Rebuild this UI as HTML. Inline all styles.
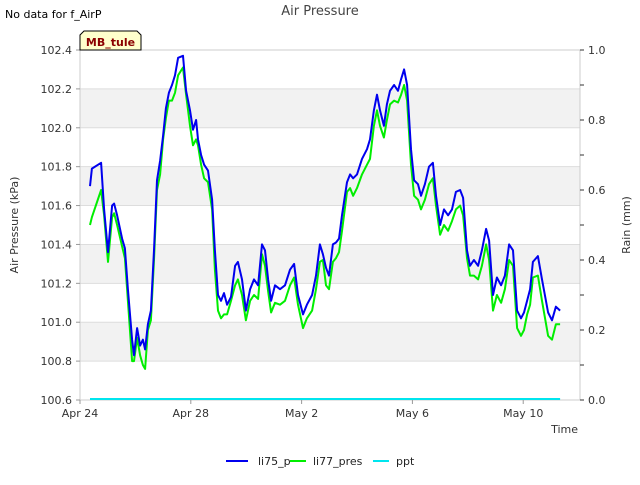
<!DOCTYPE html>
<html><head><meta charset="utf-8"><style>
body{margin:0;background:#fff;font-family:"Liberation Sans","DejaVu Sans",sans-serif}
svg text{font-family:"DejaVu Sans","Liberation Sans",sans-serif}
</style></head><body>
<svg id="chart" width="640" height="480" viewBox="0 0 640 480" xmlns="http://www.w3.org/2000/svg">
<rect width="640" height="480" fill="#fff"/>
<g id="bands"></g>
<g id="grid"></g>
<rect x="80" y="50" width="500" height="350" fill="none" stroke="#ccc"/>
<g id="axes"></g>
<g id="series"></g>
<text x="320" y="15" text-anchor="middle" font-size="13" fill="#444">Air Pressure</text>
<text x="5" y="18" font-size="11" fill="#000">No data for f_AirP</text>
<g>
<path d="M84,31 L137,31 L141,35 L141,50 L80,50 L80,35 Z" fill="#ffffcc" stroke="#000" stroke-width="1"/>
<text x="110.5" y="46" text-anchor="middle" font-size="11" font-weight="bold" fill="#8b0000">MB_tule</text>
</g>
<text transform="translate(18,225) rotate(-90)" text-anchor="middle" font-size="11" fill="#333">Air Pressure (kPa)</text>
<text transform="translate(630,225) rotate(-90)" text-anchor="middle" font-size="11" fill="#333">Rain (mm)</text>
<text x="578" y="433" text-anchor="end" font-size="11" fill="#333">Time</text>
<g>
<g><line x1="226" y1="461" x2="248" y2="461" stroke="#0000ee" stroke-width="2"/><text x="258" y="465" font-size="11" fill="#222">li75_p</text></g>
<g><line x1="290" y1="461" x2="306" y2="461" stroke="#00ee00" stroke-width="2"/><text x="313" y="465" font-size="11" fill="#222">li77_pres</text></g>
<g><line x1="373" y1="461" x2="389" y2="461" stroke="#00e5ee" stroke-width="2"/><text x="396" y="465" font-size="11" fill="#222">ppt</text></g>
</g>
</svg>
<script>
const days=[0.36,0.43,0.76,0.87,1.01,1.16,1.23,1.34,1.52,1.62,1.73,1.88,1.95,2.06,2.17,2.27,2.35,2.45,2.56,2.67,2.78,2.89,3.00,3.10,3.21,3.32,3.43,3.54,3.72,3.83,3.97,4.08,4.19,4.26,4.37,4.48,4.62,4.77,4.87,4.98,5.09,5.20,5.31,5.45,5.60,5.70,5.85,5.99,6.14,6.28,6.43,6.57,6.68,6.79,6.90,7.04,7.22,7.40,7.58,7.73,7.87,8.05,8.19,8.38,8.52,8.66,8.77,8.88,8.99,9.13,9.24,9.35,9.46,9.64,9.75,9.86,10.00,10.18,10.36,10.47,10.61,10.72,10.83,10.97,11.08,11.19,11.34,11.48,11.59,11.70,11.81,11.95,12.06,12.20,12.31,12.45,12.60,12.74,12.85,13.00,13.14,13.29,13.43,13.57,13.72,13.83,13.97,14.08,14.22,14.37,14.51,14.66,14.77,14.91,15.05,15.20,15.34,15.49,15.63,15.78,15.92,16.03,16.14,16.25,16.35,16.53,16.68,16.90,17.04,17.18,17.33];
const li75=[101.70,101.79,101.82,101.58,101.36,101.60,101.61,101.55,101.43,101.38,101.17,100.91,100.83,100.97,100.88,100.91,100.86,100.99,101.06,101.37,101.73,101.83,101.96,102.10,102.18,102.22,102.27,102.36,102.37,102.19,102.09,101.99,102.04,101.94,101.86,101.81,101.78,101.63,101.37,101.14,101.11,101.15,101.09,101.13,101.29,101.31,101.22,101.06,101.17,101.22,101.19,101.40,101.37,101.22,101.11,101.19,101.17,101.19,101.27,101.30,101.14,101.04,101.09,101.14,101.24,101.40,101.35,101.28,101.24,101.40,101.41,101.43,101.55,101.72,101.76,101.74,101.76,101.84,101.89,101.94,102.09,102.17,102.09,102.01,102.12,102.19,102.22,102.19,102.25,102.30,102.22,101.89,101.73,101.71,101.65,101.71,101.80,101.82,101.65,101.50,101.58,101.55,101.58,101.67,101.68,101.64,101.37,101.29,101.32,101.29,101.37,101.48,101.42,101.14,101.23,101.19,101.24,101.40,101.37,101.06,101.02,101.05,101.11,101.17,101.31,101.34,101.22,101.05,101.01,101.08,101.06];
const li77=[101.50,101.54,101.68,101.55,101.31,101.54,101.56,101.50,101.39,101.33,101.11,100.80,100.80,100.92,100.83,100.78,100.76,100.96,101.01,101.32,101.68,101.76,101.94,102.05,102.14,102.14,102.18,102.27,102.31,102.17,102.01,101.91,101.94,101.91,101.81,101.74,101.72,101.58,101.27,101.06,101.02,101.04,101.04,101.11,101.19,101.22,101.14,101.01,101.11,101.14,101.12,101.35,101.29,101.16,101.05,101.10,101.09,101.11,101.19,101.23,101.09,100.97,101.02,101.06,101.17,101.31,101.32,101.19,101.17,101.31,101.33,101.36,101.47,101.67,101.69,101.65,101.69,101.76,101.81,101.84,102.01,102.09,102.01,101.95,102.04,102.12,102.14,102.13,102.17,102.22,102.14,101.81,101.65,101.63,101.58,101.63,101.71,101.74,101.60,101.45,101.50,101.47,101.52,101.58,101.60,101.55,101.33,101.24,101.24,101.22,101.29,101.40,101.32,101.06,101.14,101.10,101.17,101.32,101.29,100.97,100.93,100.96,101.04,101.09,101.23,101.24,101.11,100.93,100.91,100.99,100.99];
const pptDays=[0.36,17.33];
const ppt=[0,0];
const yTicks=[100.6,100.8,101.0,101.2,101.4,101.6,101.8,102.0,102.2,102.4];
const y2Ticks=[0.0,0.2,0.4,0.6,0.8,1.0];
const xTickDays=[0,4,8,12,16];
const xTickLabels=["Apr 24","Apr 28","May 2","May 6","May 10"];

const NS="http://www.w3.org/2000/svg";
const X0=80,X1=580,Y0=400,Y1=50;
const xS=d=>X0+d*(X1-X0)/18.05;
const yS=v=>Y0-(v-100.6)*(Y0-Y1)/1.8;
const y2S=v=>Y0-v*(Y0-Y1);
function mk(tag,attrs,parent){const e=document.createElementNS(NS,tag);for(const k in attrs)e.setAttribute(k,attrs[k]);parent.appendChild(e);return e;}
const bands=document.getElementById('bands'),grid=document.getElementById('grid'),axes=document.getElementById('axes'),series=document.getElementById('series');
for(let i=1;i<yTicks.length-1;i+=2){
  const r=mk('rect',{x:X0,y:yS(yTicks[i+1]),width:X1-X0,height:yS(yTicks[i])-yS(yTicks[i+1]),fill:'#f2f2f2'},bands);
  
  
}
yTicks.forEach(v=>{
  const y=yS(v);
  const l=mk('line',{x1:X0,x2:X1,y1:y,y2:y,stroke:'#ddd'},grid);
  
  
  mk('line',{x1:X0-4,x2:X0,y1:y,y2:y,stroke:'#999'},axes);
  const t=mk('text',{x:X0-8,y:y+4,'text-anchor':'end','font-size':'11',fill:'#333'},axes);
  t.textContent=v.toFixed(1);
  
  
});
for(let k=0;k<=10;k++){
  const y=y2S(k/10);
  mk('line',{x1:X1,x2:X1+4,y1:y,y2:y,stroke:'#333'},axes);
}
y2Ticks.forEach(v=>{
  const t=mk('text',{x:X1+8,y:y2S(v)+4,'font-size':'11',fill:'#333'},axes);
  t.textContent=v.toFixed(1);
  
  
});
xTickDays.forEach((d,i)=>{
  const x=xS(d);
  mk('line',{x1:x,x2:x,y1:Y0,y2:Y0+4,stroke:'#999'},axes);
  const t=mk('text',{x:x,y:Y0+17,'text-anchor':'middle','font-size':'11',fill:'#333'},axes);
  t.textContent=xTickLabels[i];
  
  
});
function line(xs,ys,sc,color,name){
  const p=mk('polyline',{points:xs.map((d,i)=>xS(d).toFixed(1)+','+sc(ys[i]).toFixed(1)).join(' '),fill:'none',stroke:color,'stroke-width':'2','stroke-linejoin':'round'},series);
  
  
}
line(pptDays,ppt,v=>y2S(v)-1,'#00e5ee','ppt-line');
line(days,li77,yS,'#00ee00','li77-pres-line');
line(days,li75,yS,'#0000ee','li75-p-line');
</script>
</body></html>
